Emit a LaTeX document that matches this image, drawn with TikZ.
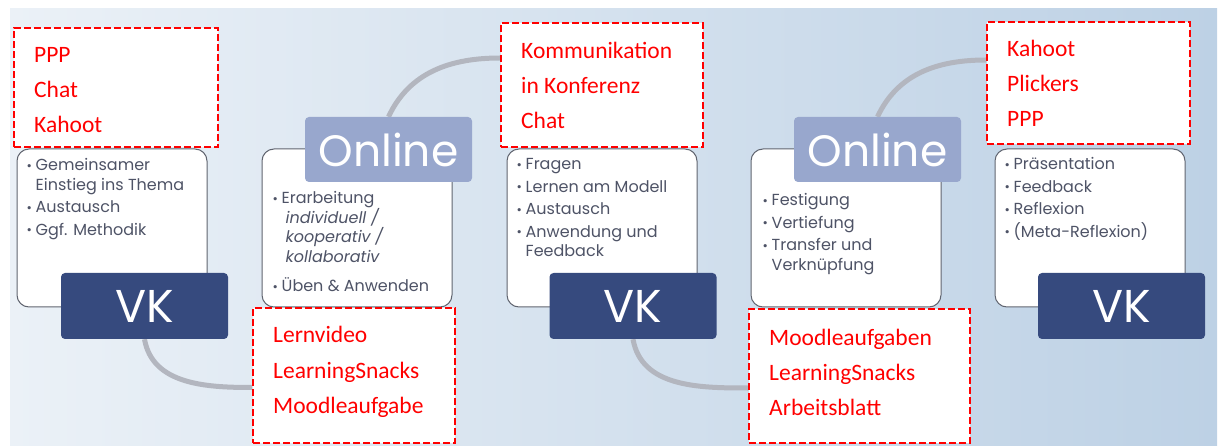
\documentclass[tikz,border=0pt]{standalone}
\usepackage{fontspec}
\newfontfamily\gothic{Poppins}
\newfontfamily\calib{Carlito}
\usetikzlibrary{positioning,shapes,backgrounds}
\definecolor{vkblue}{HTML}{364A7E}
\definecolor{onblue}{HTML}{98A7CD}
\definecolor{arcgray}{HTML}{B3B6BF}
\definecolor{txtgray}{HTML}{4E5366}
\definecolor{boxline}{HTML}{60646F}
\definecolor{bgleft}{HTML}{EBF1F7}
\definecolor{bgright}{HTML}{BDD1E5}
\newcommand{\blt}{\makebox[9pt][l]{\fontsize{13}{13}\selectfont\raisebox{0.5pt}{\textbullet}}}
\newcommand{\ind}{\hspace*{9pt}}
\tikzset{
  phase/.style={draw=boxline, line width=1pt, fill=white, rounded corners=12pt,
                minimum width=190pt, minimum height=158pt},
  vkbox/.style={fill=vkblue, rounded corners=4pt, text=white, minimum width=167pt,
                minimum height=66pt, font=\gothic\fontsize{46}{46}\selectfont},
  onbox/.style={fill=onblue, rounded corners=4pt, text=white, minimum width=167pt,
                minimum height=65pt, font=\gothic\fontsize{44}{44}\selectfont},
  toolbox/.style={draw=red, fill=white, line width=2pt, dash pattern=on 7pt off 3pt},
  tooltxt/.style={text=red, font=\calib\fontsize{23.5}{23.5}\selectfont, anchor=base west,
                  inner sep=0pt, xshift=21pt},
  itemtxt/.style={text=txtgray, font=\gothic\fontsize{16}{19.5}\selectfont, align=left,
                  anchor=north west, inner sep=0pt},
  cyclearc/.style={draw=arcgray, line width=5pt}
}
\begin{document}
\begin{tikzpicture}[x=1pt, y=-1pt]
      \useasboundingbox (0, 0) rectangle (1221, 446);
      \node [phase] (p1) at (112, 228) {};
      \node [phase] (p2) at (357, 228) {};
      \node [phase] (p3) at (602, 228) {};
      \node [phase] (p4) at (846, 228) {};
      \node [phase] (p5) at (1090, 228) {};
      \node [vkbox] (vk1) at (144.5, 306) {VK};
      \node [vkbox] (vk2) at (633, 306) {VK};
      \node [vkbox] (vk3) at (1121.5, 306) {VK};
      \node [onbox] (on1) at (388.5, 149.5) {Online};
      \node [onbox] (on2) at (877.5, 149.5) {Online};
      \node [itemtxt, xshift=10pt, yshift=-10pt] (t1) at (p1.north west)
            {\blt Gemeinsamer\\\ind Einstieg ins Thema\\[3pt]\blt Austausch\\[3pt]\blt Ggf. Methodik};
      \node [itemtxt, xshift=11pt, yshift=-43pt] (t2) at (p2.north west)
            {\blt Erarbeitung\\\ind\hspace*{4pt}\textit{individuell /}\\\ind\hspace*{4pt}\textit{kooperativ /}\\\ind\hspace*{4pt}\textit{kollaborativ}\\[10pt]\blt Üben \& Anwenden};
      \node [itemtxt, xshift=10pt, yshift=-10pt] (t3) at (p3.north west)
            {\blt Fragen\\[3pt]\blt Lernen am Modell\\[3pt]\blt Austausch\\[3pt]\blt Anwendung und\\\ind Feedback};
      \node [itemtxt, xshift=12pt, yshift=-45pt] (t4) at (p4.north west)
            {\blt Festigung\\[3pt]\blt Vertiefung\\[3pt]\blt Transfer und\\\ind Verknüpfung};
      \node [itemtxt, xshift=10pt, yshift=-9pt] (t5) at (p5.north west)
            {\blt Präsentation\\[3pt]\blt Feedback\\[3pt]\blt Reflexion\\[3pt]\blt (Meta-Reflexion)};
      \node [toolbox, minimum width=204pt, minimum height=119pt] (r1) at (116, 87.5) {};
      \node [toolbox, minimum width=202pt, minimum height=135pt] (r2) at (354, 375.5) {};
      \node [toolbox, minimum width=202pt, minimum height=124pt] (r3) at (602, 85) {};
      \node [toolbox, minimum width=221pt, minimum height=134pt] (r4) at (859.5, 376) {};
      \node [toolbox, minimum width=203pt, minimum height=122pt] (r5) at (1088.5, 83) {};
      \foreach \t [count=\i] in {PPP, Chat, Kahoot}
            \node [tooltxt, yshift={-36pt-35pt*(\i-1)}] (r1t\i) at (r1.north west) {\t};
      \foreach \t [count=\i] in {Lernvideo, LearningSnacks, Moodleaufgabe}
            \node [tooltxt, yshift={-36pt-35pt*(\i-1)}] (r2t\i) at (r2.north west) {\t};
      \foreach \t [count=\i] in {Kommunikation, in Konferenz, Chat}
            \node [tooltxt, yshift={-37pt-35pt*(\i-1)}] (r3t\i) at (r3.north west) {\t};
      \foreach \t [count=\i] in {Moodleaufgaben, LearningSnacks, Arbeitsblatt}
            \node [tooltxt, yshift={-37pt-35pt*(\i-1)}] (r4t\i) at (r4.north west) {\t};
      \foreach \t [count=\i] in {Kahoot, Plickers, PPP}
            \node [tooltxt, yshift={-36pt-35pt*(\i-1)}] (r5t\i) at (r5.north west) {\t};
      \begin{scope}[on background layer]
      \fill [left color=bgleft, right color=bgright] (10, 9) rectangle (1217, 446);
      \draw [cyclearc] (vk1.south) to [out=-80, in=180] ([yshift=-12pt]r2.west)
                       (on1.north) to [out=65, in=180] ([yshift=27pt]r3.west)
                       (vk2.south) to [out=-80, in=180] ([yshift=-12pt]r4.west)
                       (on2.north) to [out=65, in=180] ([yshift=23pt]r5.west);
      \end{scope}
      \end{tikzpicture}
\end{document}
